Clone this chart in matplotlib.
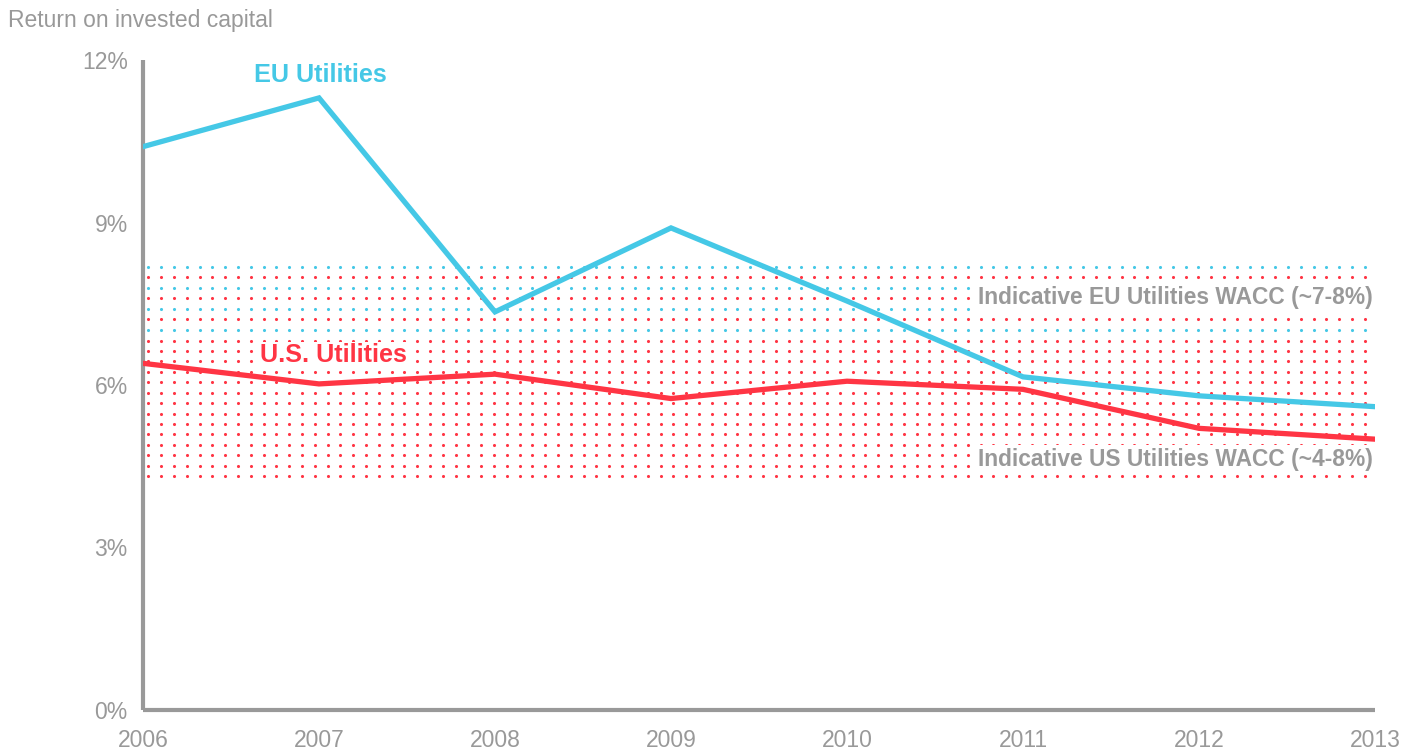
import numpy as np
import matplotlib
matplotlib.use("Agg")
import matplotlib.pyplot as plt

plt.rcParams['font.family'] = ['Liberation Sans', 'DejaVu Sans']

# data
years = [2006, 2007, 2008, 2009, 2010, 2011, 2012, 2013]
eu_roic = [10.4, 11.3, 7.35, 8.9, 7.55, 6.15, 5.8, 5.6]
us_roic = [6.4, 6.02, 6.2, 5.75, 6.07, 5.92, 5.2, 5.0]
year_labels = ['2006', '2007', '2008', '2009', '2010', '2011', '2012', '2013']
y_ticks = [0, 3, 6, 9, 12]
y_labels = ['0%', '3%', '6%', '9%', '12%']

# dotted WACC bands (row levels, in % of ROIC)
eu_wacc_rows = [8.18, 7.79, 7.40, 7.01]
us_wacc_rows = [7.99, 7.60, 7.21] + list(np.linspace(6.82, 4.32, 14))

GREY = '#999999'
CYAN = '#45C8E6'
RED = '#FF3544'

fig = plt.figure(figsize=(14.04, 7.51), dpi=100)
ax = fig.add_axes([143 / 1404, 1 - 710 / 751, (1375 - 143) / 1404, (710 - 60) / 751])

# dot grid
dot_x = np.linspace(2006.03, 2013.015, 97)
for yv in us_wacc_rows:
    ax.scatter(dot_x, np.full_like(dot_x, yv), s=5, color=RED, linewidths=0, zorder=1)
for yv in eu_wacc_rows:
    ax.scatter(dot_x, np.full_like(dot_x, yv), s=5, color=CYAN, linewidths=0, zorder=1)

ax.plot(years, eu_roic, color=CYAN, lw=3.8, solid_joinstyle='miter', zorder=3)
ax.plot(years, us_roic, color=RED, lw=3.8, solid_joinstyle='miter', zorder=3)

ax.set_xlim(2006, 2013)
ax.set_ylim(0, 12)
ax.set_xticks(years)
ax.set_xticklabels(year_labels)
ax.set_yticks(y_ticks)
ax.set_yticklabels(y_labels)
ax.tick_params(length=0, colors=GREY, labelsize=16.5)
ax.tick_params(axis='x', pad=14)
ax.tick_params(axis='y', pad=11)
for side in ['top', 'right']:
    ax.spines[side].set_visible(False)
for side in ['left', 'bottom']:
    ax.spines[side].set_color(GREY)
    ax.spines[side].set_linewidth(3)
    ax.spines[side].set_capstyle('butt')

box = dict(facecolor='white', edgecolor='none', pad=2)
ax.text(2012.99, 7.61, 'Indicative EU Utilities WACC (~7-8%)', ha='right', va='center',
        fontsize=16.4, weight='bold', color=GREY, bbox=box, zorder=2)
ax.text(2012.99, 4.63, 'Indicative US Utilities WACC (~4-8%)', ha='right', va='center',
        fontsize=16.4, weight='bold', color=GREY, bbox=box, zorder=2)

ax.text(2007.01, 11.72, 'EU Utilities', ha='center', va='center',
        fontsize=18.2, weight='bold', color=CYAN, zorder=4)
ax.text(2007.08, 6.55, 'U.S. Utilities', ha='center', va='center',
        fontsize=18.2, weight='bold', color=RED, zorder=2,
        bbox=dict(facecolor='white', edgecolor='none', pad=1))

fig.text(8 / 1404, 1 - 20 / 751, 'Return on invested capital', ha='left', va='center',
         fontsize=16.5, color=GREY)

fig.savefig('out.png', dpi=100)
